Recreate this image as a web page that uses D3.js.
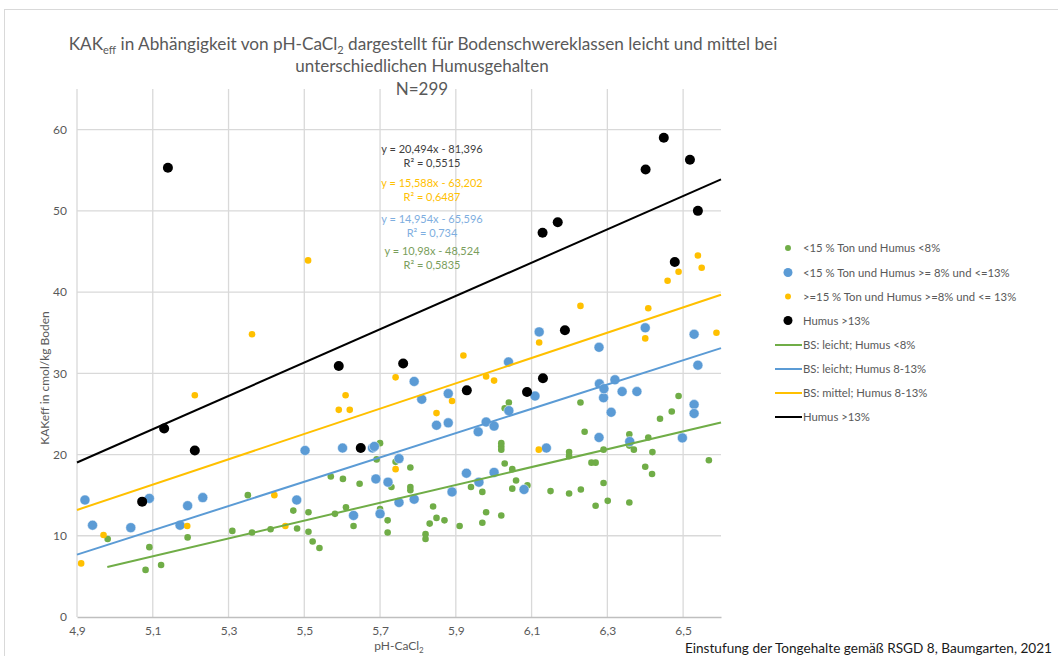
<!DOCTYPE html>
<html>
<head>
<meta charset="utf-8">
<script src="https://cdn.jsdelivr.net/npm/d3@7"></script>
<style>
  body { margin: 0; background: #fff; }
  text { font-family: Lato, "Open Sans", sans-serif; }
</style>
</head>
<body>
<div class="canva"></div>
<script>
// pH-CaCl2 / KAKeff pairs, one array per group
const humusLow = [ // <15 % Ton und Humus <8%
  [4.981,9.6],[5.081,5.8],[5.091,8.6],[5.122,6.4],[5.192,9.8],[5.310,10.6],[5.351,15.0],[5.362,10.4],
  [5.411,10.8],[5.471,13.1],[5.481,10.9],[5.511,12.9],[5.511,10.5],[5.522,9.3],[5.540,8.5],[5.570,17.3],
  [5.581,12.7],[5.602,17.0],[5.610,13.5],[5.630,11.2],[5.646,16.4],[5.691,19.4],[5.700,21.4],[5.700,13.3],
  [5.720,11.9],[5.720,10.4],[5.730,16.0],[5.741,19.1],[5.780,18.4],[5.780,16.0],[5.780,15.6],[5.820,10.2],
  [5.820,9.6],[5.831,11.5],[5.840,13.6],[5.849,12.2],[5.870,11.9],[5.910,11.2],[5.940,16.0],[5.970,15.4],
  [5.970,11.6],[5.980,12.9],[6.020,21.4],[6.020,21.0],[6.020,20.6],[6.020,12.5],[6.029,18.9],[6.029,25.7],
  [6.040,26.4],[6.049,18.2],[6.049,15.8],[6.059,16.8],[6.089,16.2],[6.150,15.5],[6.199,20.3],[6.199,19.8],
  [6.199,15.2],[6.229,26.4],[6.230,15.7],[6.240,22.8],[6.258,19.0],[6.269,19.0],[6.269,13.7],[6.290,20.6],
  [6.290,16.5],[6.301,14.3],[6.358,22.5],[6.358,21.1],[6.358,14.1],[6.370,20.6],[6.400,18.5],[6.408,22.1],
  [6.418,17.6],[6.419,20.3],[6.439,24.4],[6.470,25.3],[6.488,27.2],[6.568,19.3]
];
const humusMidLight = [ // <15 % Ton und Humus >= 8% und <=13%
  [4.921,14.4],[4.941,11.3],[5.042,11.0],[5.091,14.6],[5.172,11.3],[5.192,13.7],[5.232,14.7],[5.480,14.4],
  [5.502,20.5],[5.601,20.8],[5.630,12.5],[5.680,20.8],[5.685,21.0],[5.689,17.0],[5.700,12.7],[5.721,16.6],
  [5.750,19.5],[5.750,14.1],[5.790,14.5],[5.790,29.0],[5.810,26.8],[5.849,23.6],[5.880,23.9],[5.880,27.5],
  [5.890,15.4],[5.928,17.7],[5.959,22.8],[5.961,16.6],[5.980,24.0],[6.001,23.5],[6.001,17.8],[6.039,31.4],
  [6.040,25.4],[6.080,15.7],[6.109,27.2],[6.120,35.1],[6.139,20.8],[6.278,33.2],[6.278,22.1],[6.279,28.7],
  [6.290,27.0],[6.291,28.1],[6.310,25.2],[6.320,29.2],[6.339,27.75],[6.359,21.6],[6.378,27.75],[6.400,35.6],
  [6.498,22.05],[6.539,31.0],[6.529,34.8],[6.529,26.15],[6.529,25.05]
];
const humusMidMedium = [ // >=15 % Ton und Humus >=8% und <= 13%
  [4.911,6.6],[4.970,10.1],[5.191,11.2],[5.211,27.3],[5.362,34.8],[5.421,15.0],[5.450,11.2],[5.510,43.9],
  [5.591,25.5],[5.609,27.3],[5.620,25.5],[5.741,29.5],[5.741,18.2],[5.849,25.1],[5.890,26.6],[5.920,32.2],
  [5.980,29.6],[6.001,29.1],[6.120,33.8],[6.119,20.6],[6.229,38.3],[6.400,34.3],[6.408,38.0],[6.459,41.4],
  [6.488,42.5],[6.539,44.5],[6.549,43.0],[6.588,35.0]
];
const humusHigh = [ // Humus >13%
  [5.072,14.2],[5.130,23.2],[5.140,55.3],[5.211,20.5],[5.591,30.9],[5.649,20.8],[5.761,31.2],[5.929,27.9],
  [6.088,27.7],[6.129,47.3],[6.130,29.4],[6.169,48.6],[6.188,35.3],[6.401,55.1],[6.449,59.0],[6.478,43.7],
  [6.518,56.3],[6.539,50.0]
];

// linear trends y = a*x + b, drawn over [from, to]
const trendSlopes = [10.98, 14.954, 15.588, 20.494];
const trendIntercepts = [-48.524, -65.596, -63.202, -81.396];
const trendRanges = [[4.98, 6.6], [4.9, 6.6], [4.9, 6.6], [4.9, 6.6]];
const trendEquations = ['y = 10,98x - 48,524', 'y = 14,954x - 65,596', 'y = 15,588x - 63,202', 'y = 20,494x - 81,396'];
const trendR2 = ['R² = 0,5835', 'R² = 0,734', 'R² = 0,6487', 'R² = 0,5515'];

const xTicks = [4.9, 5.1, 5.3, 5.5, 5.7, 5.9, 6.1, 6.3, 6.5];
const yTicks = [0, 10, 20, 30, 40, 50, 60];

const pointLabels = ['<15 % Ton und Humus <8%', '<15 % Ton und Humus >= 8% und <=13%',
                     '>=15 % Ton und Humus >=8% und <= 13%', ' Humus >13%'];
const lineLabels = ['BS: leicht; Humus <8%', 'BS: leicht; Humus 8-13%', 'BS: mittel; Humus 8-13%', 'Humus >13%'];

const colors = ['#70AD47', '#5B9BD5', '#FFC000', '#000000'];
const radii = [3.3, 5, 3.3, 5];

const width = 1058, height = 656;
const margin = { top: 89, left: 77 };
const graphWidth = 644, graphHeight = 528;

const svg = d3.select('.canva').append('svg')
                .attr('width', width)
                .attr('height', height)

svg.append('rect')
    .attr('x', 4.5).attr('y', 9.5)
    .attr('width', 1100).attr('height', 700)
    .attr('fill', 'none').attr('stroke', '#d9d9d9')

const x = d3.scaleLinear().domain([4.9, 6.6]).range([0, graphWidth]);
const y = d3.scaleLinear().domain([0, 65]).range([graphHeight, 0]);

const graph = svg.append('g')
                .attr('transform', `translate(${margin.left}, ${margin.top})`)

// gridlines
graph.selectAll('.vgrid').data(xTicks).enter().append('line')
    .attr('x1', d => x(d)).attr('x2', d => x(d))
    .attr('y1', 0).attr('y2', graphHeight)
    .attr('stroke', '#d9d9d9').attr('stroke-width', 1.3)
graph.selectAll('.hgrid').data(yTicks.slice(1)).enter().append('line')
    .attr('x1', 0).attr('x2', graphWidth)
    .attr('y1', d => y(d)).attr('y2', d => y(d))
    .attr('stroke', '#d9d9d9').attr('stroke-width', 1.3)

// axes
const xAxis = d3.axisBottom(x).tickValues(xTicks).tickSize(0).tickPadding(9)
                .tickFormat(d => d3.format('.1f')(d).replace('.', ','));
const yAxis = d3.axisLeft(y).tickValues(yTicks).tickSize(0).tickPadding(10);

const xAxisGroup = graph.append('g').attr('transform', `translate(0, ${graphHeight})`).call(xAxis);
const yAxisGroup = graph.append('g').call(yAxis);
yAxisGroup.select('.domain').remove();
xAxisGroup.select('.domain').attr('stroke', '#bfbfbf').attr('stroke-width', 1.5);
svg.selectAll('.tick text').attr('fill', '#595959').style('font-size', '12px').style('font-family', 'Lato, sans-serif');

// points
const series = [humusLow, humusMidLight, humusMidMedium, humusHigh];
series.forEach((pts, i) => {
    graph.append('g').selectAll('circle')
        .data(pts).enter().append('circle')
        .attr('cx', d => x(d[0]))
        .attr('cy', d => y(d[1]))
        .attr('r', radii[i])
        .attr('fill', colors[i])
        .attr('stroke', i === 1 ? '#ffffff' : 'none')
        .attr('stroke-width', 0.8)
        .attr('stroke-opacity', 0.6)
});

// trend lines
trendSlopes.forEach((a, i) => {
    const r = trendRanges[i];
    graph.append('line')
        .attr('x1', x(r[0])).attr('y1', y(a * r[0] + trendIntercepts[i]))
        .attr('x2', x(r[1])).attr('y2', y(a * r[1] + trendIntercepts[i]))
        .attr('stroke', colors[i]).attr('stroke-width', 2)
});

// equation labels (top to bottom: black, yellow, blue, green)
const eqColors = ['#7a9e5c', '#7eaee0', '#ffc000', '#404040'];
const eqY = [251, 219, 183, 149];
trendEquations.forEach((t, i) => {
    svg.append('text').attr('x', 432).attr('y', eqY[i] + 4)
        .attr('text-anchor', 'middle').attr('fill', eqColors[i])
        .style('font-size', '11px').text(t)
    svg.append('text').attr('x', 432).attr('y', eqY[i] + 18)
        .attr('text-anchor', 'middle').attr('fill', eqColors[i])
        .style('font-size', '11px').text(trendR2[i])
});

// title
const title = svg.append('text').attr('x', 423).attr('y', 50)
                .attr('text-anchor', 'middle').attr('fill', '#595959').style('font-size', '17.2px')
title.append('tspan').text('KAK')
title.append('tspan').text('eff').attr('dy', 4).style('font-size', '11px')
title.append('tspan').text('  in Abhängigkeit von pH-CaCl').attr('dy', -4)
title.append('tspan').text('2').attr('dy', 4).style('font-size', '11px')
title.append('tspan').text(' dargestellt für Bodenschwereklassen  leicht und mittel bei').attr('dy', -4)
svg.append('text').attr('x', 422).attr('y', 72).attr('text-anchor', 'middle')
    .attr('fill', '#595959').style('font-size', '17px').text('unterschiedlichen Humusgehalten')
svg.append('text').attr('x', 422).attr('y', 95).attr('text-anchor', 'middle')
    .attr('fill', '#595959').style('font-size', '17px').text('N=299')

// axis titles
svg.append('text').attr('transform', 'translate(49, 378) rotate(-90)')
    .attr('text-anchor', 'middle').attr('fill', '#595959').style('font-size', '12px')
    .text('KAKeff in cmol/kg Boden')
const xt = svg.append('text').attr('x', 399).attr('y', 650).attr('text-anchor', 'middle')
    .attr('fill', '#595959').style('font-size', '12px')
xt.append('tspan').text('pH-CaCl')
xt.append('tspan').text('2').attr('dy', 3).style('font-size', '8px')

svg.append('text').attr('x', 1052).attr('y', 653).attr('text-anchor', 'end')
    .attr('fill', '#1a1a1a').style('font-size', '13.6px')
    .text('Einstufung der Tongehalte gemäß RSGD 8, Baumgarten, 2021')

// legend
const legendY = [248, 272.5, 296.5, 320.5, 345, 369, 393, 417];
pointLabels.forEach((t, i) => {
    svg.append('circle').attr('cx', 788).attr('cy', legendY[i]).attr('r', radii[i] * 0.9).attr('fill', colors[i])
    svg.append('text').attr('x', 803).attr('y', legendY[i] + 4).attr('fill', '#595959')
        .style('font-size', '11.3px').text(t)
});
lineLabels.forEach((t, i) => {
    svg.append('line').attr('x1', 775).attr('x2', 802)
        .attr('y1', legendY[i + 4]).attr('y2', legendY[i + 4])
        .attr('stroke', colors[i]).attr('stroke-width', 2)
    svg.append('text').attr('x', 803).attr('y', legendY[i + 4] + 4).attr('fill', '#595959')
        .style('font-size', '11.3px').text(t)
});
</script>
</body>
</html>
